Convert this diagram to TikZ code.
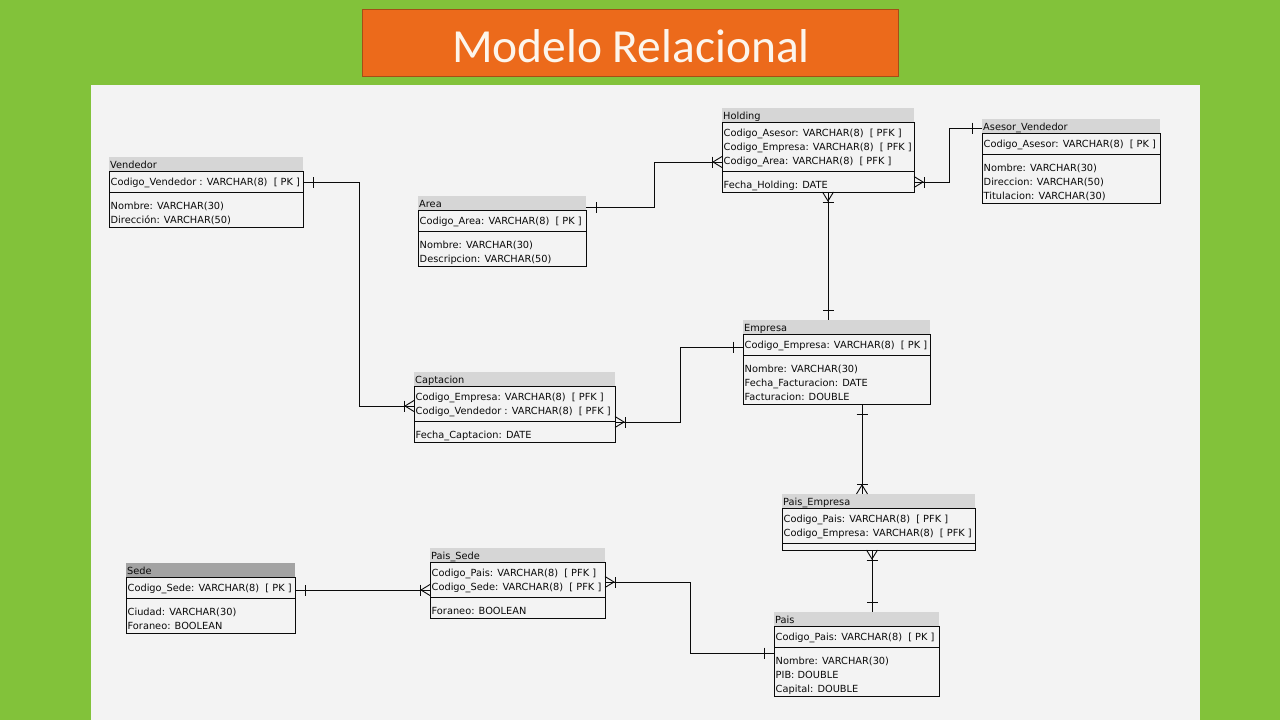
\documentclass[tikz,border=0pt]{standalone}
\usepackage{fontspec}
\setmainfont{DejaVu Sans}
\newfontfamily\titlefont{Carlito}
\usetikzlibrary{calc}
\definecolor{bggreen}{RGB}{130,194,58}
\definecolor{ttlorange}{RGB}{236,106,27}
\definecolor{ttlborder}{RGB}{165,78,22}
\definecolor{ttltext}{RGB}{252,245,236}
\definecolor{panel}{RGB}{243,243,243}
\definecolor{hdrgray}{RGB}{214,214,214}
\definecolor{hdrdark}{RGB}{163,163,163}
\definecolor{ink}{RGB}{10,10,10}
\tikzset{
  conn/.style={draw=ink, line width=0.9pt},
  tblbox/.style={draw=ink, line width=0.9pt, fill=panel, inner sep=0pt, outer sep=0pt, anchor=north west},
  hdrbox/.style={inner sep=0pt, outer sep=0pt, minimum height=14pt, anchor=north west},
  rowtxt/.style={font=\fontsize{9.8}{11}\selectfont, text=ink, inner sep=0pt, anchor=base west},
  crowfoot/.pic={\draw[conn] (0,5.5) -- (9,0) -- (0,-5.5); \draw[conn] (10,5.5) -- (10,-5.5);},
  onebar/.pic={\draw[conn] (10,5.5) -- (10,-5.5);}
}
\newcommand\gap{\ \ }
\newcounter{erdn}
\newcommand\erdtable[8]{%
  \pgfmathsetmacro\erdyb{#3+14}%
  \setcounter{erdn}{0}%
  \foreach \r in {#7}{\stepcounter{erdn}}%
  \pgfmathsetmacro\erdsep{\erdyb+14*\the\value{erdn}+7}%
  \setcounter{erdn}{0}%
  \if\relax\detokenize{#8}\relax\else\foreach \r in {#8}{\stepcounter{erdn}}\fi
  \pgfmathsetmacro\erdbot{\erdsep+7+14*\the\value{erdn}}%
  \pgfmathsetmacro\erdh{\erdbot-\erdyb}%
  \node[hdrbox, fill=#5, minimum width=#4pt] (#1-h) at (#2,#3) {};
  \node[rowtxt] (#1-t) at (#2+1,#3+11) {#6};
  \node[tblbox, minimum width=#4pt, minimum height=\erdh pt] (#1) at (#2,\erdyb) {};
  \draw[conn] (#2,\erdsep) -- ++(#4,0);
  \foreach \r [count=\i] in {#7}{\node[rowtxt] (#1-k\i) at (#2+1.5,\erdyb+14*\i) {\r};}
  \if\relax\detokenize{#8}\relax\else
  \foreach \r [count=\i] in {#8}{\node[rowtxt] (#1-a\i) at (#2+1.5,\erdsep+3+14*\i) {\r};}\fi
}
\begin{document}
\begin{tikzpicture}[x=1pt,y=-1pt]
\useasboundingbox (0,0) rectangle (1280,720);
\fill[bggreen] (0,0) rectangle (1280,720);
\fill[panel] (91,85) rectangle (1200,720);
\node[draw=ttlborder, line width=1pt, fill=ttlorange, minimum width=536pt, minimum height=67pt, inner sep=0pt, anchor=north west] (titlebox) at (362,9) {};
\node[font=\titlefont\fontsize{47.5}{50}\selectfont, text=ttltext, inner sep=0pt, anchor=base] (title) at (631,62) {Modelo Relacional};

\erdtable{vend}{109}{157}{194}{hdrgray}{Vendedor}{Codigo\_Vendedor : VARCHAR(8)\gap[ PK ]}{Nombre: VARCHAR(30),Dirección: VARCHAR(50)}
\erdtable{area}{418}{196}{168}{hdrgray}{Area}{Codigo\_Area: VARCHAR(8)\gap[ PK ]}{Nombre: VARCHAR(30),Descripcion: VARCHAR(50)}
\erdtable{hold}{722}{108}{192}{hdrgray}{Holding}{Codigo\_Asesor: VARCHAR(8)\gap[ PFK ],Codigo\_Empresa: VARCHAR(8)\gap[ PFK ],Codigo\_Area: VARCHAR(8)\gap[ PFK ]}{Fecha\_Holding: DATE}
\erdtable{ases}{982}{119}{178}{hdrgray}{Asesor\_Vendedor}{Codigo\_Asesor: VARCHAR(8)\gap[ PK ]}{Nombre: VARCHAR(30),Direccion: VARCHAR(50),Titulacion: VARCHAR(30)}
\erdtable{capt}{414}{372}{201}{hdrgray}{Captacion}{Codigo\_Empresa: VARCHAR(8)\gap[ PFK ],Codigo\_Vendedor : VARCHAR(8)\gap[ PFK ]}{Fecha\_Captacion: DATE}
\erdtable{empr}{743}{320}{187}{hdrgray}{Empresa}{Codigo\_Empresa: VARCHAR(8)\gap[ PK ]}{Nombre: VARCHAR(30),Fecha\_Facturacion: DATE,Facturacion: DOUBLE}
\erdtable{pemp}{782}{494}{193}{hdrgray}{Pais\_Empresa}{Codigo\_Pais: VARCHAR(8)\gap[ PFK ],Codigo\_Empresa: VARCHAR(8)\gap[ PFK ]}{}
\erdtable{sede}{126}{563}{169}{hdrdark}{Sede}{Codigo\_Sede: VARCHAR(8)\gap[ PK ]}{Ciudad: VARCHAR(30),Foraneo: BOOLEAN}
\erdtable{psed}{430}{548}{175}{hdrgray}{Pais\_Sede}{Codigo\_Pais: VARCHAR(8)\gap[ PFK ],Codigo\_Sede: VARCHAR(8)\gap[ PFK ]}{Foraneo: BOOLEAN}
\erdtable{pais}{774}{612}{165}{hdrgray}{Pais}{Codigo\_Pais: VARCHAR(8)\gap[ PK ]}{Nombre: VARCHAR(30),PIB: DOUBLE,Capital: DOUBLE}

% connection points
\coordinate (c1a) at ($(vend.north east)+(0,11)$);
\coordinate (c1b) at ($(capt.north west)+(0,20)$);
\coordinate (c2a) at ($(area.north east)+(0,-3)$);
\coordinate (c2b) at ($(hold.north west)+(0,40)$);
\coordinate (c3a) at ($(hold.north east)+(0,60)$);
\coordinate (c3b) at ($(ases.north west)+(0,-5)$);
\coordinate (c4a) at ($(hold.south west)+(106,0)$);
\coordinate (c4b) at ($(empr-h.north west)+(85,0)$);
\coordinate (c5a) at ($(capt.north east)+(0,36)$);
\coordinate (c5b) at ($(empr.north west)+(0,13)$);
\coordinate (c6a) at ($(empr.south west)+(119,0)$);
\coordinate (c6b) at ($(pemp-h.north west)+(80,0)$);
\coordinate (c7a) at ($(pemp.south west)+(90,0)$);
\coordinate (c7b) at ($(pais-h.north west)+(98,0)$);
\coordinate (c8a) at ($(sede.north east)+(0,13)$);
\coordinate (c8b) at ($(psed.north west)+(0,28)$);
\coordinate (c9a) at ($(psed.north east)+(0,20)$);
\coordinate (c9b) at ($(pais.north west)+(0,27)$);

% connectors
\draw[conn] (c1a) -- ++(56,0) |- (c1b);
\draw[conn] (c2a) -- ++(68,0) |- (c2b);
\draw[conn] (c3a) -- ++(35,0) |- (c3b);
\draw[conn] (c4a) -- (c4a |- c4b);
\draw[conn] (c5a) -- ++(65,0) |- (c5b);
\draw[conn] (c6a) -- (c6a |- c6b);
\draw[conn] (c7a) -- (c7a |- c7b);
\draw[conn] (c8a) -- (c8b);
\draw[conn] (c9a) -- ++(85,0) |- (c9b);

% end marks
\pic at (c1a) {onebar};
\pic[rotate=180] at (c1b) {crowfoot};
\pic at (c2a) {onebar};
\pic[rotate=180] at (c2b) {crowfoot};
\pic at (c3a) {crowfoot};
\pic[rotate=180] at (c3b) {onebar};
\pic[rotate=-90] at (c4a) {crowfoot};
\pic[rotate=90] at (c4a |- c4b) {onebar};
\pic at (c5a) {crowfoot};
\pic[rotate=180] at (c5b) {onebar};
\pic[rotate=-90] at (c6a) {onebar};
\pic[rotate=90] at (c6a |- c6b) {crowfoot};
\pic[rotate=-90] at (c7a) {crowfoot};
\pic[rotate=90] at (c7a |- c7b) {onebar};
\pic at (c8a) {onebar};
\pic[rotate=180] at (c8b) {crowfoot};
\pic at (c9a) {crowfoot};
\pic[rotate=180] at (c9b) {onebar};
\end{tikzpicture}
\end{document}
